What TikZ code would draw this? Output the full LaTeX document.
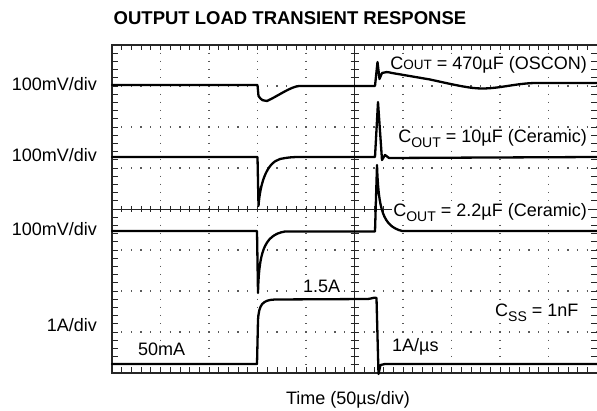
\documentclass[tikz,border=0pt]{standalone}
\usepackage{fontspec}
\setmainfont{Liberation Sans}
\newcommand\lblfont{\fontsize{18}{20}\selectfont}
\newcommand\subOUT{\raisebox{-4.7pt}{\fontsize{14}{15}\selectfont OUT}}
\newcommand\scOUT{{\fontsize{13.5}{15}\selectfont OUT}}
\newcommand\subSS{\raisebox{-4.7pt}{\fontsize{14}{15}\selectfont SS}}
\begin{document}
\begin{tikzpicture}[x=1pt,y=-1pt,
  frame/.style={line width=2.4pt,black!85},
  tickmark/.style={line width=0.8pt,black!85},
  axisline/.style={line width=0.9pt,black!85},
  hdots/.style={line width=1.4pt,black!65,dash pattern=on 1.3pt off 8.4pt,dash phase=0.65pt},
  vdots/.style={line width=1.4pt,black!65,dash pattern=on 1.3pt off 6.9pt,dash phase=0.65pt},
  trace/.style={line width=2.3pt,black,line join=round,line cap=round},
  lbl/.style={inner sep=0pt,font=\lblfont},
  inlbl/.style={lbl,fill=white,inner sep=1pt}]
\useasboundingbox (0,0) rectangle (597,411);
% dotted grid
\foreach \yy in {86,127,168,250,291,332} {\draw[hdots] (112,\yy) -- (597,\yy);}
\foreach \xx in {160.5,209,257.5,306,403,451.5,500,548.5} {\draw[vdots] (\xx,45) -- (\xx,373);}
% center axes
\draw[axisline] (112,209) -- (597,209);
\draw[axisline] (354.5,45) -- (354.5,373);
% ticks
\foreach \i in {0,...,49} {
  \draw[tickmark] ({112+9.7*\i},45) -- ++(0,5.5);
  \draw[tickmark] ({112+9.7*\i},373) -- ++(0,-5.5);
  \draw[tickmark] ({112+9.7*\i},206) -- ++(0,6);
}
\foreach \j in {0,...,39} {
  \draw[tickmark] (112,{45+8.2*\j}) -- ++(6,0);
  \draw[tickmark] (597,{45+8.2*\j}) -- ++(-6,0);
  \draw[tickmark] (350.5,{45+8.2*\j}) -- ++(8,0);
}
% frame
\draw[frame] (597,45) -- (112,45) -- (112,373) -- (597,373);
% labels inside the grid
\node[inlbl,anchor=base east] (c1) at (588,69.5) {C\scOUT{} = 470µF (OSCON)};
\node[inlbl,anchor=base east] (c2) at (588,142.5) {C\subOUT{} = 10µF (Ceramic)};
\node[inlbl,anchor=base east] (c3) at (588,216.5) {C\subOUT{} = 2.2µF (Ceramic)};
\node[inlbl,anchor=base west] (hi) at (302,292.5) {1.5A};
\node[inlbl,anchor=base west] (css) at (494,316.5) {C\subSS{} = 1nF};
\node[inlbl,anchor=base west] (sr) at (391,352) {1A/µs};
\node[inlbl,anchor=base west] (lo) at (137,356) {50mA};
% trace 1: 470uF OSCON
\draw[trace] (112,85) -- (257.5,85) -- (258.5,96) .. controls (261,100) and (264,101.5) .. (267,101)
  .. controls (278,96) and (290,87) .. (299,86) -- (375,86) -- (377.5,62) -- (379.5,79) -- (382,73)
  .. controls (385,71.5) and (388,72) .. (392,73) -- (430,79.5)
  .. controls (455,85) and (470,88.5) .. (482,88.5) .. controls (500,88.5) and (515,83.5) .. (535,83) -- (597,83);
% trace 2: 10uF ceramic
\draw[trace] (112,157) -- (257.5,157) -- (258.5,206) .. controls (260,185) and (266,163) .. (280,159)
  .. controls (287,157.5) and (292,157) .. (300,157) -- (375,157) -- (378,102) -- (382,160) -- (385,155) -- (389,158) -- (597,157);
% trace 3: 2.2uF ceramic
\draw[trace] (112,231) -- (257,231) -- (258,293) .. controls (259,255) and (263,235) .. (285,231.5)
  -- (375,231.5) -- (377,165) .. controls (378.5,210) and (383,226) .. (402,231) -- (597,231);
% trace 4: load current
\draw[trace] (112,364) -- (257,364) -- (258,320) .. controls (259,305) and (262,300) .. (275,299.5)
  -- (368,299) .. controls (372,298.5) and (375,297) .. (376.5,298) -- (378.5,374) -- (380.5,365) -- (385,364) -- (597,364);
% labels outside the grid
\node[lbl,anchor=base east] (s1) at (97,91) {100mV/div};
\node[lbl,anchor=base east] (s2) at (97,162) {100mV/div};
\node[lbl,anchor=base east] (s3) at (97,236) {100mV/div};
\node[lbl,anchor=base east] (s4) at (97,332) {1A/div};
\node[inner sep=0pt,anchor=base,font=\fontsize{18.5}{20}\selectfont\bfseries] (title) at (290,25) {OUTPUT LOAD TRANSIENT RESPONSE};
\node[lbl,anchor=base] (xlab) at (348,405) {Time (50µs/div)};
\end{tikzpicture}
\end{document}
